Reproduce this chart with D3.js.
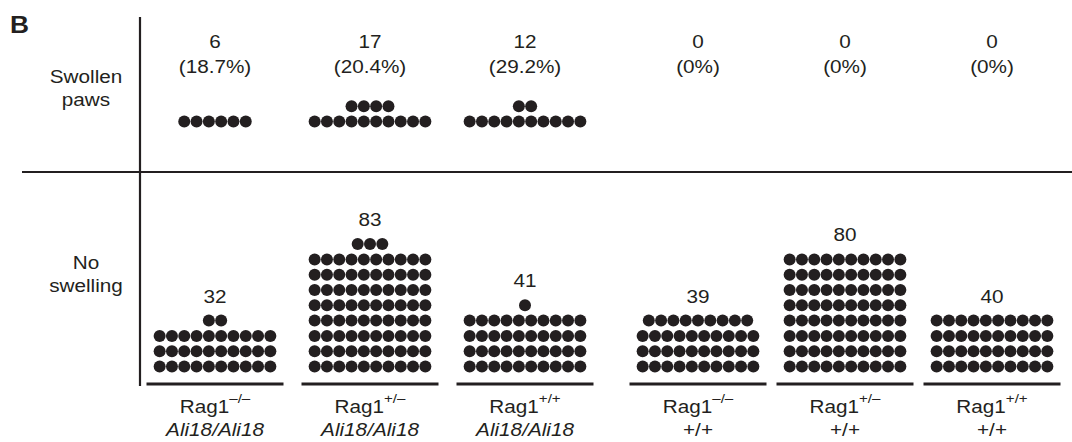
<!DOCTYPE html>
<html>
<head>
<meta charset="utf-8">
<script src="https://cdn.jsdelivr.net/npm/d3@7"></script>
<style>
  html, body { margin: 0; padding: 0; background: #fff; }
  svg { display: block; }
  text { font-family: "Liberation Sans", Arial, Helvetica, sans-serif; fill: #231f20; }
</style>
</head>
<body>
<svg id="chart" width="1072" height="442"></svg>
<script>
// ---------------- data ----------------
const groups      = ["g1", "g2", "g3", "g4", "g5", "g6"];
const aliGenotype = ["Ali18/Ali18", "Ali18/Ali18", "Ali18/Ali18", "+/+", "+/+", "+/+"];
const ragGenotype = ["\u2013/\u2013", "+/\u2013", "+/+", "\u2013/\u2013", "+/\u2013", "+/+"];
const swollenCounts  = [6, 17, 12, 0, 0, 0];
const swollenPercent = ["18.7%", "20.4%", "29.2%", "0%", "0%", "0%"];
// dots as drawn in the figure, per row from the bottom
const swollenDotRows = [[6], [10, 4], [10, 2], [], [], []];
const noSwellingCounts = [32, 83, 41, 39, 80, 40];
const rowLabels = [["Swollen", "paws"], ["No", "swelling"]];
const panelLetter = "B";
const dotsPerRow = 10;

// ---------------- layout ----------------
const svg = d3.select("#chart");
const ink = "#231f20";
const fs = 18.5, sx = 1.12;

// x positions: two genotype blocks (Ali18/Ali18 and +/+)
const aliBlocks = ["Ali18/Ali18", "+/+"];
const blockRange = { "Ali18/Ali18": [215, 525], "+/+": [698, 992] };
const blockScales = {};
aliBlocks.forEach(a => {
  blockScales[a] = d3.scalePoint()
    .domain(groups.filter((g, i) => aliGenotype[i] === a))
    .range(blockRange[a]);
});
const xCenter = i => blockScales[aliGenotype[i]](groups[i]);

const dx = 12.3, dy = 15.3, r = 6;
// y scales (row index -> y centre)
const yNo = d3.scaleLinear().domain([0, 1]).range([366.5, 366.5 - dy]);
const ySw = d3.scaleLinear().domain([0, 1]).range([121.5, 121.5 - dy]);

function txt(g, x, y, s, opts = {}) {
  const t = g.append("text")
    .attr("transform", `translate(${x},${y}) scale(${sx},1)`)
    .attr("text-anchor", opts.anchor || "middle")
    .attr("font-size", opts.size || fs)
    .text(s);
  if (opts.italic) t.attr("font-style", "italic");
  if (opts.bold) t.attr("font-weight", "bold");
  return t;
}

// axes / frame lines
svg.append("line").attr("x1", 140).attr("x2", 140).attr("y1", 17).attr("y2", 386)
  .attr("stroke", ink).attr("stroke-width", 2.2);
svg.append("line").attr("x1", 22).attr("x2", 1072).attr("y1", 172).attr("y2", 172)
  .attr("stroke", ink).attr("stroke-width", 2.2);

// panel letter
txt(svg, 10, 32.5, panelLetter, { anchor: "start", size: 23.5, bold: true });

// row labels
txt(svg, 86, 83, rowLabels[0][0]);
txt(svg, 86, 106, rowLabels[0][1]);
txt(svg, 86, 269, rowLabels[1][0]);
txt(svg, 86, 292, rowLabels[1][1]);

// dots helper
function rowsFromCount(n) {
  const rows = [];
  let left = n;
  while (left > 0) { rows.push(Math.min(dotsPerRow, left)); left -= dotsPerRow; }
  return rows;
}
function dotData(i, rows) {
  const out = [];
  rows.forEach((n, ri) => {
    for (let j = 0; j < n; j++) out.push({ row: ri, x: xCenter(i) + (j - (n - 1) / 2) * dx });
  });
  return out;
}

groups.forEach((g, i) => {
  const cx = xCenter(i);
  const G = svg.append("g");

  // swollen
  txt(G, cx, 48, String(swollenCounts[i]));
  txt(G, cx, 73, "(" + swollenPercent[i] + ")");
  G.selectAll("circle.sw").data(dotData(i, swollenDotRows[i])).join("circle")
    .attr("class", "sw").attr("cx", d => d.x).attr("cy", d => ySw(d.row)).attr("r", r)
    .attr("fill", ink);

  // no swelling
  const rows = rowsFromCount(noSwellingCounts[i]);
  G.selectAll("circle.ns").data(dotData(i, rows)).join("circle")
    .attr("class", "ns").attr("cx", d => d.x).attr("cy", d => yNo(d.row)).attr("r", r)
    .attr("fill", ink);
  txt(G, cx, yNo(rows.length - 1) - 18, String(noSwellingCounts[i]));

  // baseline
  G.append("line").attr("x1", cx - 68.5).attr("x2", cx + 68.5).attr("y1", 384).attr("y2", 384)
    .attr("stroke", ink).attr("stroke-width", 3);

  // genotype labels
  const t = txt(G, cx, 412.5, "");
  t.append("tspan").text("Rag1");
  t.append("tspan").attr("dy", -9.5).attr("font-size", 13.5).text(ragGenotype[i]);
  txt(G, cx, 436, aliGenotype[i], { italic: aliGenotype[i] !== "+/+" });
});
</script>
</body>
</html>
